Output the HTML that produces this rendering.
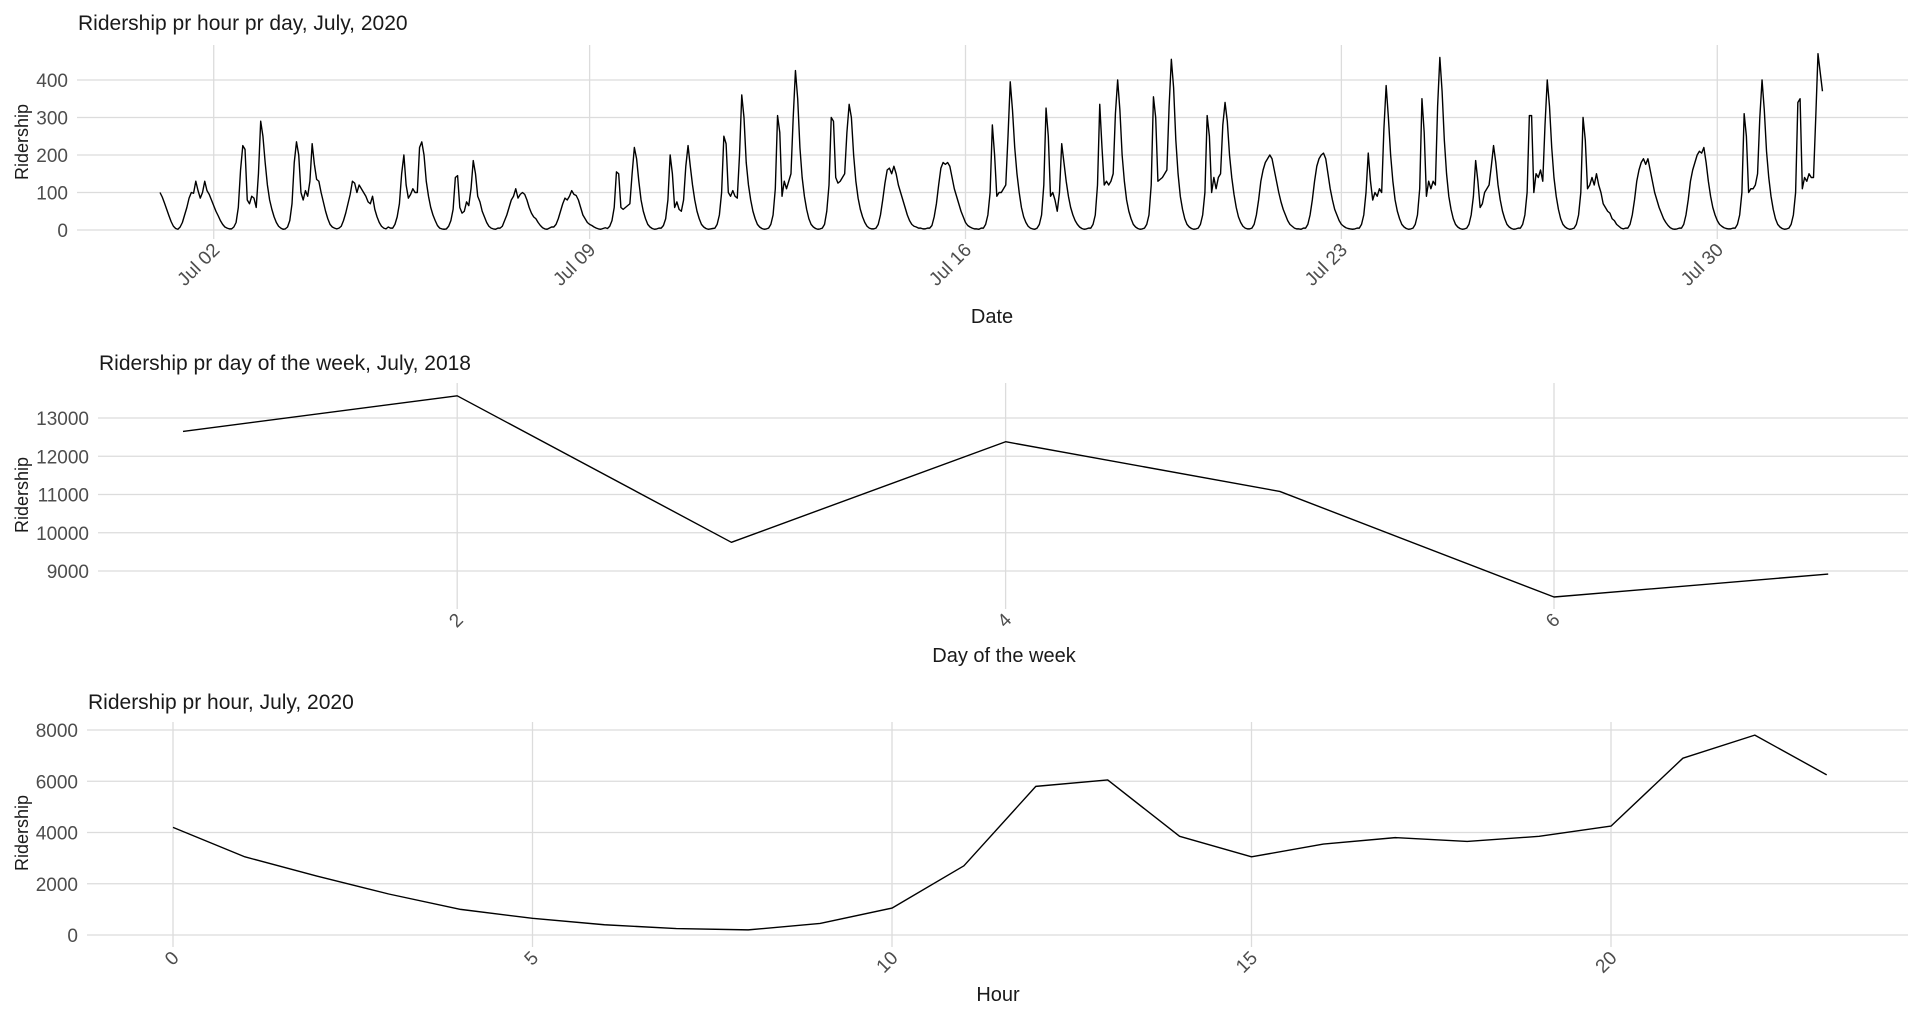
<!DOCTYPE html>
<html><head><meta charset="utf-8"><style>
html,body{margin:0;padding:0;background:#fff;width:1920px;height:1011px;overflow:hidden}
svg{display:block;font-family:"Liberation Sans",sans-serif}
.grid{stroke:#dcdcdc;stroke-width:1.3}
.tick{fill:#4d4d4d;font-size:19px}
.title{fill:#1a1a1a;font-size:21px}
.axt{fill:#1a1a1a;font-size:20px}
.line{fill:none;stroke:#000;stroke-width:1.4;stroke-linejoin:round}
</style></head><body>
<svg id="svg" width="1920" height="1011" viewBox="0 0 1920 1011" xmlns="http://www.w3.org/2000/svg"></svg>
<script>
// ---- Panel 1: hourly ridership July 2020 ----
const hourlyPrefix = [100,88,72,55,38,22,10,4];
const hourlyHumps = [
[2,8,20,40,60,85,100,98,130,105,85,100,130,105,95,80,65,50,38,25,15,8,5,3],
[3,8,20,60,160,225,215,80,70,90,85,60,150,290,250,180,120,80,55,35,20,10,5,2],
[3,8,25,70,180,235,200,100,80,105,90,130,230,175,135,130,100,75,50,30,15,8,5,3],
[5,10,25,45,70,95,130,125,100,120,110,100,90,75,70,90,55,35,20,10,5,3,8,5],
[5,15,35,70,150,200,120,85,95,110,100,100,220,235,200,130,90,60,40,25,12,5,3,2],
[3,10,25,55,140,145,60,45,50,75,65,110,185,150,90,75,50,35,20,10,5,3,2,5],
[5,10,25,40,60,80,90,110,85,95,100,95,80,60,45,35,30,20,12,6,3,2,5,8],
[8,15,30,50,70,85,80,90,105,95,92,80,60,40,30,20,15,12,8,5,3,2,4,6],
[4,10,25,60,155,150,60,55,60,65,70,150,220,190,130,80,50,30,15,8,4,2,3,5],
[5,12,30,80,200,150,60,75,55,50,80,170,225,170,120,80,50,30,15,8,4,2,3,4],
[5,15,40,100,250,230,100,90,105,90,85,200,360,300,180,120,80,50,30,15,8,4,2,3],
[5,15,40,110,305,260,90,130,110,130,150,300,425,350,220,140,90,55,30,15,8,4,2,3],
[5,15,50,120,300,290,140,125,130,140,150,260,335,300,200,130,85,55,35,20,10,5,3,3],
[5,15,40,80,125,160,165,150,170,150,120,100,80,60,40,25,15,10,8,5,5,3,3,5],
[5,12,35,70,120,165,180,175,180,170,140,110,90,70,50,35,20,12,8,5,3,3,2,5],
[5,15,40,100,280,200,90,100,100,110,120,250,395,320,220,150,100,60,35,20,10,5,3,2],
[5,15,40,120,325,250,90,100,80,50,100,230,180,130,90,60,40,25,15,8,4,2,3,5],
[5,15,40,120,335,220,120,130,120,130,150,310,400,320,200,130,80,50,30,15,8,4,2,3],
[5,15,40,120,355,300,130,135,140,150,160,330,455,380,240,150,90,55,30,15,8,4,2,3],
[5,15,40,100,305,250,100,140,110,140,150,280,340,290,200,140,95,60,35,20,10,5,3,3],
[5,15,40,80,130,160,180,190,200,190,160,130,100,75,55,40,25,15,10,5,3,3,2,5],
[5,15,40,80,130,170,190,200,205,190,150,110,80,55,40,25,15,10,6,4,3,2,3,5],
[5,15,40,100,205,130,80,100,90,110,100,270,385,300,200,130,80,50,30,15,8,4,2,3],
[5,15,40,110,350,260,90,130,110,130,120,330,460,370,240,150,90,55,30,15,8,4,2,3],
[5,15,40,90,185,130,60,70,100,110,120,170,225,180,120,80,50,30,15,8,4,2,3,5],
[5,15,40,100,305,305,100,150,140,160,130,280,400,330,220,140,90,55,30,15,8,4,2,3],
[5,15,40,100,300,240,110,120,140,120,150,120,100,70,60,50,45,30,25,15,10,5,3,5],
[5,15,40,80,130,160,180,190,175,190,160,130,100,80,60,45,30,20,12,6,3,2,3,5],
[5,15,40,80,130,160,180,200,210,205,220,180,130,90,60,40,25,15,10,6,4,3,3,5],
[5,15,40,100,310,250,100,110,110,120,150,300,400,320,210,140,90,55,30,15,8,4,2,3],
[5,15,40,100,340,350,110,140,130,150,140,140,300,470,420,370]
];
const p1YTicks = [0,100,200,300,400];
const p1XTickDays = [1,8,15,22,29];
const p1XTickLabels = ["Jul 02","Jul 09","Jul 16","Jul 23","Jul 30"];

// ---- Panel 2: day of week 2018 ----
const dowDays = [1,2,3,4,5,6,7];
const dowValues = [12650,13580,9750,12380,11080,8320,8920];
const p2YTicks = [9000,10000,11000,12000,13000];
const p2XTicks = [2,4,6];

// ---- Panel 3: per hour 2020 ----
const hours = [0,1,2,3,4,5,6,7,8,9,10,11,12,13,14,15,16,17,18,19,20,21,22,23];
const hourValues = [4200,3050,2300,1600,1000,650,400,250,200,450,1050,2700,5800,6050,3850,3050,3550,3800,3650,3850,4250,6900,7800,6250];
const p3YTicks = [0,2000,4000,6000,8000];
const p3XTicks = [0,5,10,15,20];

const NS = "http://www.w3.org/2000/svg";
const svg = document.getElementById('svg');
function mk(tag, attrs, parent){const e=document.createElementNS(NS,tag);for(const k in attrs)e.setAttribute(k,attrs[k]);(parent||svg).appendChild(e);return e;}

const GX1 = 1908;

function panel(o){
  const g = mk('g',{});
  
  
  const title = mk('text',{x:o.titleX,y:o.titleY,class:'title'},g);
  title.textContent=o.title;
  
  
  o.yTicks.forEach(v=>{
    const y=o.ys(v);
    const ln=mk('line',{x1:o.gx0,x2:GX1,y1:y,y2:y,class:'grid'},g);
    
    
    const t=mk('text',{x:o.gx0-9,y:y+7,'text-anchor':'end',class:'tick'},g);
    t.textContent=String(v);
    
    
  });
  o.xTicks.forEach((v,i)=>{
    const x=o.xs(v);
    const ln=mk('line',{x1:x,x2:x,y1:o.gTop,y2:o.gBot,class:'grid'},g);
    
    
    const t=mk('text',{x:0,y:0,'text-anchor':'end',class:'tick',transform:`translate(${x+7},${o.gBot+12}) rotate(-45)`},g);
    t.textContent=o.xLabels?o.xLabels[i]:String(v);
    
    
  });
  const xt=mk('text',{x:o.xTitleX,y:o.xTitleY,'text-anchor':'middle',class:'axt'},g);
  xt.textContent=o.xTitle;
  
  
  const yt=mk('text',{x:0,y:0,'text-anchor':'middle',class:'axt',style:'font-size:18px',transform:`translate(28,${o.yTitleY}) rotate(-90)`},g);
  yt.textContent='Ridership';
  
  
  const d=o.xv.map((xv,i)=>(i?'L':'M')+o.xs(xv).toFixed(2)+','+o.ys(o.yv[i]).toFixed(2)).join('');
  const p=mk('path',{d:d,class:'line'},g);
  
  
}

const hourly = hourlyPrefix.concat(...hourlyHumps);
const hourIdx = hourly.map((_,i)=>i);
panel({name:'hourly-by-day-chart',title:'Ridership pr hour pr day, July, 2020',titleX:78,titleY:30,
  gx0:77, ys:v=>230-v*0.375, xs:h=>160+h*2.2375,
  yTicks:p1YTicks, xTicks:p1XTickDays.map(d=>d*24), xLabels:p1XTickLabels,
  gTop:45,gBot:239,xTitle:'Date',xTitleX:992,xTitleY:323,yTitleY:142,
  xv:hourIdx, yv:hourly});

panel({name:'day-of-week-chart',title:'Ridership pr day of the week, July, 2018',titleX:99,titleY:370,
  gx0:98, ys:v=>571-(v-9000)*0.03825, xs:d=>183+(d-1)*274.2,
  yTicks:p2YTicks, xTicks:p2XTicks,
  gTop:383,gBot:609,xTitle:'Day of the week',xTitleX:1004,xTitleY:662,yTitleY:495,
  xv:dowDays, yv:dowValues});

panel({name:'hour-of-day-chart',title:'Ridership pr hour, July, 2020',titleX:88,titleY:709,
  gx0:87, ys:v=>935-v*0.025625, xs:h=>173+h*71.9,
  yTicks:p3YTicks, xTicks:p3XTicks,
  gTop:722,gBot:947,xTitle:'Hour',xTitleX:998,xTitleY:1001,yTitleY:833,
  xv:hours, yv:hourValues});
</script>
</body></html>
